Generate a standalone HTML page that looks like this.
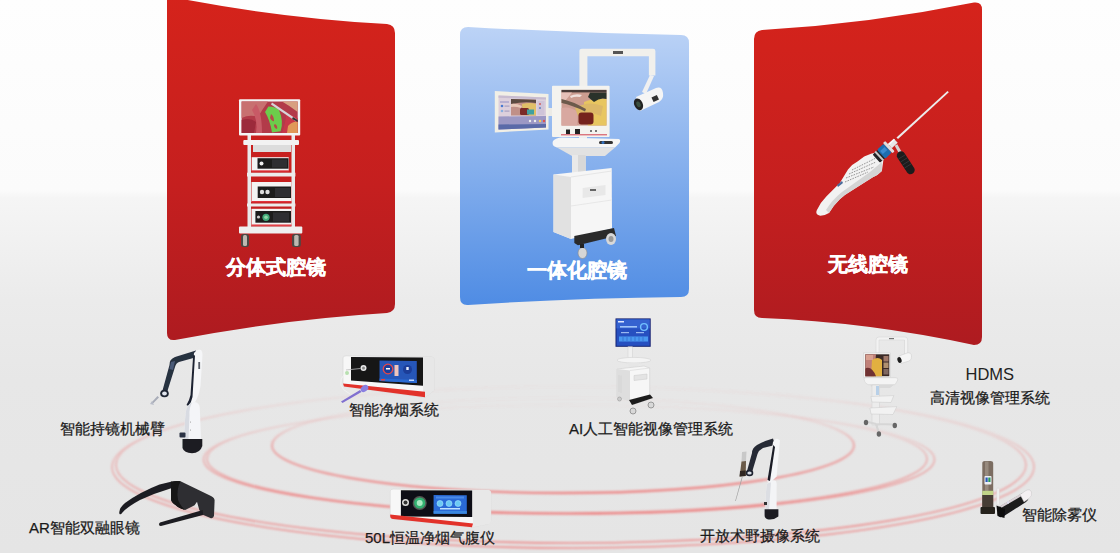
<!DOCTYPE html>
<html><head><meta charset="utf-8">
<style>
html,body{margin:0;padding:0;}
body{width:1120px;height:553px;overflow:hidden;position:relative;
 background:linear-gradient(180deg,#fefefe 0px,#fbfbfb 190px,#f5f5f5 198px,#ebebeb 300px,#e7e7e7 380px,#e5e5e5 553px);
 font-family:"Liberation Sans",sans-serif;}
svg{position:absolute;left:0;top:0;}
.lbl{position:absolute;white-space:nowrap;color:#1a1a1a;font-size:15px;line-height:16px;-webkit-text-stroke:0.25px #1a1a1a;}
.ttl{position:absolute;white-space:nowrap;color:#fff;font-size:20px;line-height:22px;font-weight:bold;-webkit-text-stroke:0.4px #fff;}
</style></head><body>
<svg width="1120" height="553" viewBox="0 0 1120 553">
<defs>
 <linearGradient id="gr" x1="0" y1="0" x2="0" y2="1">
  <stop offset="0" stop-color="#d5231b"/>
  <stop offset="0.55" stop-color="#c51f1f"/>
  <stop offset="1" stop-color="#ae1b20"/>
 </linearGradient>
 <linearGradient id="gb" x1="0" y1="0" x2="0" y2="1">
  <stop offset="0" stop-color="#bcd3f6"/>
  <stop offset="1" stop-color="#4f8ce4"/>
 </linearGradient>
 <filter id="soft" x="-5%" y="-5%" width="110%" height="110%"><feGaussianBlur stdDeviation="0.35"/></filter>
 <filter id="blur1" x="-10%" y="-50%" width="120%" height="200%"><feGaussianBlur stdDeviation="1.2"/></filter>
</defs>
<!-- rings -->
<defs>
 <linearGradient id="rg" x1="0" y1="0" x2="0" y2="1">
  <stop offset="0" stop-color="#ee7a7a" stop-opacity="0.02"/>
  <stop offset="0.3" stop-color="#ee7a7a" stop-opacity="0.18"/>
  <stop offset="0.5" stop-color="#ee7a7a" stop-opacity="0.5"/>
  <stop offset="1" stop-color="#ee7a7a" stop-opacity="0.85"/>
 </linearGradient>
</defs>
<g fill="none" stroke="url(#rg)" filter="url(#blur1)">
 <ellipse cx="563" cy="445.5" rx="291" ry="47.5" stroke-width="2.3"/>
 <ellipse cx="567" cy="459" rx="360" ry="54" stroke-width="1.6"/>
 <ellipse cx="569" cy="459.5" rx="365.5" ry="54.5" stroke-width="1.6"/>
 <ellipse cx="571" cy="465" rx="455" ry="78" stroke-width="1.6"/>
 <ellipse cx="573" cy="467" rx="461" ry="81" stroke-width="1.6"/>
</g>
<!-- panels -->
<path d="M167 -4 Q277 18 387 24 Q395 25 395 33 L395 304 Q395 312 387 313 Q281 319.5 175 340 Q167 341 167 333 Z" fill="url(#gr)"/>
<path d="M460 35 Q460 27 468 27 Q574 33 681 35 Q689 35 689 43 L689 289 Q689 297 681 297 Q574 298 468 305 Q460 305.5 460 297 Z" fill="url(#gb)"/>
<path d="M754 39 Q754 31 762 30 Q868 24 974 2.5 Q982 1.5 982 9.5 L982 337 Q982 345 974 345 Q868 322 762 318 Q754 318 754 310 Z" fill="url(#gr)"/>




<!-- robotic arm 1 -->
<g id="arm1" filter="url(#soft)">
 <path d="M196 350.5 L175 357 Q169 359.5 169.5 365 L162.5 390.5 L166.5 394 L175 367 Q176 363 179 362 L197 357Z" fill="#283040"/>
 <path d="M171 362 L175 361 L173 370 L169.5 369Z" fill="#4a5a78"/>
 <ellipse cx="164.5" cy="393.5" rx="4.3" ry="3.8" fill="#1f2533"/>
 <ellipse cx="164.5" cy="393.5" rx="2.4" ry="2" fill="#e2e6ee"/>
 <path d="M157.5 396 L151.5 402.5 L153 403.5 L159 397.5Z" fill="#a8acb8"/>
 <path d="M152 401 L150 404 L154 405Z" fill="#b8bcc8"/>
 <path d="M194 353 Q197 348.5 201 350 Q203 352 202.3 357.5 L200.5 386 Q199 396 195 402 L190.5 404 Q190 399 191 394Z" fill="#f5f6f8"/>
 <path d="M193.2 355 L195 355.5 L192.5 397 Q191.5 402 188.5 406 L186.5 405 Q189.5 400 190.5 395Z" fill="#1c2230"/>
 <rect x="198.3" y="362" width="1.8" height="7" fill="#555a66"/>
 <path d="M186 411 Q187.5 403 195 402 Q199.5 403 199.8 408 L201 439 H184 L185 420Z" fill="#f4f5f8"/>
 <path d="M186 411 Q187.5 404 192 402.5 Q189 408 189.5 415 L188.5 439 H184 L185 420Z" fill="#d8dbe2"/>
 <circle cx="190.5" cy="422" r="0.5" fill="#888"/>
 <circle cx="190.5" cy="430" r="0.5" fill="#888"/>
 <path d="M182.5 439 H202.3 V446 Q200 453.3 192 453.3 Q184 453 182.5 448Z" fill="#1c1e24"/>
 <rect x="179.5" y="432.5" width="6" height="5" rx="1" fill="#2a3244"/>
</g>
<!-- AR glasses -->
<g id="glasses" filter="url(#soft)">
 <path d="M172 481.5 L159.5 484.5 Q140 492 125 503 Q118 509 119.5 514 Q121 515 122 513 Q127 507 140 500 Q155 493 172 488Z" fill="#1f1f22"/>
 <path d="M171.1 481.8 Q176 480.5 180.5 481.2 L211 495.9 Q214.8 498 214.6 500.6 L214 515.8 Q213.5 518.5 211 518.2 L202.8 514.7 L199.3 510 L197 501.7 L194.6 505.3 L185.2 510 Q178 508 175.8 505.3 Q171 502 171.1 499.4Z" fill="#2e2e31"/>
 <path d="M171.1 481.8 Q176 480.5 180.5 481.2 Q176 490 178 500 Q181 507 185.2 510 Q178 508 175.8 505.3 Q171 502 171.1 499.4Z" fill="#141416"/>
 <path d="M202.8 510 L160 522.5 Q158 524 159.5 525.8 L161 526 L203 515Z" fill="#1e1e20"/>
</g>
<!-- smoke evacuator -->
<g id="smoke" filter="url(#soft)">
 <path d="M343 358 Q343 355.8 346 355.8 L432 357 Q434.4 357.5 434.4 360 V390 L425 397.5 L346 386.5 Q343 386 343 383Z" fill="#f7f7f7" stroke="#d4d4d4" stroke-width="0.6"/>
 <path d="M423 357.2 L432 357 Q434.4 357.5 434.4 360 V390 L425 397.5 L423 392Z" fill="#e7e7e7"/>
 <path d="M351 357 L423 357.5 V385.7 L351 380.5Z" fill="#131315"/>
 <path d="M379.5 360.6 L416.8 361 V383 L379.5 381Z" fill="#2656b8"/>
 <path d="M379.5 378.5 L416.8 380 V383 L379.5 381Z" fill="#2c6ad2"/>
 <circle cx="388" cy="369" r="4.8" fill="#1f3e9a" stroke="#e84848" stroke-width="1.3"/>
 <rect x="386" y="368" width="4" height="1.5" fill="#fff"/>
 <rect x="394.5" y="365" width="4" height="11" rx1.5="" fill="#f0c4bc"/>
 <circle cx="407.5" cy="369.5" r="4.5" fill="#1c3c98"/>
 <rect x="406.3" y="367" width="2.4" height="3" fill="#e8f0ff"/>
 <rect x="381" y="379" width="4" height="1.5" fill="#e04040"/>
 <rect x="409" y="379.5" width="5" height="1.5" fill="#c0d8ff"/>
 <circle cx="363.5" cy="368" r="3" fill="#e8e8e8"/>
 <circle cx="363.5" cy="368" r="1.5" fill="#888"/>
 <path d="M346 370 L360.5 368.5" stroke="#bbb" stroke-width="0.8"/>
 <path d="M343 383.6 L425 391.8 L425 397.2 L344 386.4Z" fill="#e2302c"/>
 <circle cx="347" cy="373" r="2" fill="#b8e0b0"/>
 <path d="M341 401.5 L360 390 L361.5 392 L342.5 403Z" fill="#8070d0"/>
 <ellipse cx="364.5" cy="388.5" rx="3" ry="4.2" transform="rotate(50 364.5 388.5)" fill="#8a7ee0"/>
 <path d="M345 373 Q334 386 350 394" stroke="#f4f4f4" stroke-width="0.8" fill="none"/>
</g>
<!-- insufflator -->
<g id="insuff" filter="url(#soft)">
 <path d="M390.2 491 Q390.2 489.1 393 489.1 L488 490 Q490.9 490.5 490.9 493 V520 Q490.9 523 488 524 L472 527.2 L393 519 Q390.2 518.6 390.2 516Z" fill="#f7f7f7" stroke="#d6d6d6" stroke-width="0.6"/>
 <path d="M473 490 L488 490 Q490.9 490.5 490.9 493 V520 Q490.9 523 488 524 L473 527Z" fill="#e8e8e8"/>
 <path d="M400.9 490.2 L472.2 490.6 V517 L400.9 516.5Z" fill="#111113"/>
 <path d="M433.6 495 L466.8 495.2 V513.8 L433.6 513.6Z" fill="#2a6ad6"/>
 <rect x="436" y="496.5" width="28" height="2" fill="#4a8ae8"/>
 <rect x="440" y="508" width="20" height="1.5" fill="#c0e0ff"/>
 <rect x="433.6" y="511" width="33.2" height="2.8" fill="#3a88e0"/>
 <circle cx="440" cy="503.5" r="3" fill="#6ccaf4" stroke="#a8e4ff" stroke-width="0.6"/>
 <circle cx="449" cy="503.5" r="3" fill="#6ccaf4" stroke="#a8e4ff" stroke-width="0.6"/>
 <circle cx="458" cy="503.5" r="3" fill="#6ccaf4" stroke="#a8e4ff" stroke-width="0.6"/>
 <circle cx="419.7" cy="503" r="7" fill="#555"/>
 <circle cx="419.7" cy="503" r="5.6" fill="#30b070"/>
 <circle cx="419.7" cy="503" r="3" fill="#a8e8c0"/>
 <circle cx="405.5" cy="502.5" r="3.5" fill="#ddd"/>
 <circle cx="405.5" cy="502.5" r="2" fill="#333"/>
 <path d="M390.2 516 Q390.2 518.6 393 519 L472 527.2 L473 523.5 L390.2 514.5Z" fill="#e2302c"/>
</g>
<!-- AI system -->
<g id="ai" filter="url(#soft)">
 <rect x="615.5" y="318.4" width="35.2" height="28.4" fill="#142070"/>
 <rect x="616.5" y="319.4" width="33.2" height="26.4" fill="#2850c0"/>
 <rect x="616.5" y="319.4" width="33.2" height="9" fill="#3462d0"/>
 <rect x="618" y="321" width="6" height="1.5" fill="#e0e8ff"/>
 <rect x="620" y="326" width="17" height="1.6" fill="#a0c4f8"/>
 <circle cx="644" cy="327" r="3.4" fill="none" stroke="#70c0ff" stroke-width="1.4"/>
 <rect x="621" y="332" width="8" height="1.2" fill="#9ab8f0"/>
 <rect x="636" y="332" width="8" height="1.2" fill="#9ab8f0"/>
 <rect x="619" y="336.5" width="29" height="5" fill="#4a98f0"/>
 <path d="M623 337v4M627 337v4M631 337v4M635 337v4M639 337v4M643 337v4" stroke="#2a60c8" stroke-width="0.6"/>
 <rect x="628" y="346.8" width="4.5" height="12" fill="#f0f0f0" stroke="#cfcfcf" stroke-width="0.5"/>
 <ellipse cx="634" cy="360.2" rx="17" ry="2.8" fill="#f4f4f4" stroke="#d2d2d2" stroke-width="0.6"/>
 <path d="M627 363 L640 363 L638 367 H629Z" fill="#e6e6e6"/>
 <path d="M617 369 L644 366 L649.7 368 V397 L631 401 L617 397Z" fill="#f6f6f6" stroke="#d0d0d0" stroke-width="0.6"/>
 <path d="M617 369 L630 370.5 V401 L617 397Z" fill="#dedede"/>
 <path d="M630 370.5 L649.7 368" stroke="#d6d6d6" stroke-width="0.6"/>
 <path d="M619 375 V392 M621 375.5 V393" stroke="#c8c8c8" stroke-width="0.5"/>
 <path d="M634 375.5 L647 374 V379 L634 380.5Z" fill="#e4e4e4" stroke="#c8c8c8" stroke-width="0.5"/>
 <path d="M629 400 L650 394.5 L653 398 L632 405Z" fill="#1e1e1e"/>
 <circle cx="633" cy="411" r="3" fill="#d8d8d8" stroke="#888" stroke-width="0.8"/>
 <circle cx="651" cy="405" r="3" fill="#d8d8d8" stroke="#888" stroke-width="0.8"/>
 <circle cx="619.5" cy="399" r="2" fill="#ccc" stroke="#999" stroke-width="0.6"/>
</g>
<!-- HDMS cart -->
<g id="hdms" filter="url(#soft)">
 <path d="M876 340 Q876 337 879 337 H905 Q907.7 337 907.7 340 V355 H904.5 V340 H879 V353 H876Z" fill="#f2f2f2" stroke="#d0d0d0" stroke-width="0.5"/>
 <rect x="889" y="338" width="5" height="1.2" fill="#777"/>
 <path d="M899 356 L907 353 Q911 352 911.5 356 Q912 360 909 361 L901 363.5Z" fill="#f6f6f6" stroke="#c8c8c8" stroke-width="0.5"/>
 <ellipse cx="899.5" cy="360" rx="2" ry="3" transform="rotate(-20 899.5 360)" fill="#1a1a1a"/>
 <rect x="863.4" y="352.9" width="27" height="24.8" fill="#f2f2f0" stroke="#cfcfcf" stroke-width="0.5"/>
 <rect x="865.3" y="354.3" width="24" height="21.9" fill="#3a2a28"/>
 <path d="M865.3 354.3 H876 L874 376.2 H865.3Z" fill="#c08078"/>
 <path d="M872 360 Q878 356 882 360 L882 376.2 H871Z" fill="#e2b040"/>
 <path d="M866 368 Q872 366 876 376.2 H865.3 V369Z" fill="#703030"/>
 <rect x="866" y="355" width="7" height="5" fill="#d8a090"/>
 <rect x="883.5" y="356" width="5" height="5.5" fill="#a07868"/>
 <rect x="883.5" y="362.5" width="5" height="5.5" fill="#b09070"/>
 <rect x="883.5" y="369" width="5" height="5.5" fill="#806860"/>
 <path d="M864 379 Q864 377.7 866 377.7 L896 377.7 Q898 378 897.8 380 L895 384.7 H868 Q864 383 864 379Z" fill="#f4f4f4" stroke="#cdcdcd" stroke-width="0.5"/>
 <path d="M870 384.7 H894 L890 388 H873Z" fill="#dadada"/>
 <rect x="872" y="385" width="7.5" height="40" fill="#ececec" stroke="#cdcdcd" stroke-width="0.5"/>
 <rect x="876" y="386" width="3" height="9" fill="#b8d0e8"/>
 <path d="M870.9 396.5 L893.8 395.6 L891 402.5 L872 402Z" fill="#f2f2f2" stroke="#c8c8c8" stroke-width="0.5"/>
 <path d="M869.9 408 L896.8 406.6 L893 414.5 L871 414Z" fill="#f2f2f2" stroke="#c8c8c8" stroke-width="0.5"/>
 <path d="M866 421.5 L876 424 L894.8 424.5 M876 424 L878.9 433" stroke="#d6d6d6" stroke-width="2.2" fill="none"/>
 <ellipse cx="866" cy="422.5" rx="2.2" ry="2.8" fill="#666"/>
 <ellipse cx="894.8" cy="425.5" rx="2.2" ry="2.8" fill="#666"/>
 <ellipse cx="878.9" cy="434" rx="2.2" ry="2.8" fill="#666"/>
</g>
<!-- open-field camera arm -->
<g id="arm2" filter="url(#soft)">
 <path d="M773 438.5 Q764 441 757 445 Q752 448 752 453 L747 471 L751.5 474 L757.5 454 Q759 450 763 448 L775 445Z" fill="#272b35"/>
 <ellipse cx="749.5" cy="473" rx="3.8" ry="3.2" fill="#1f2430"/>
 <ellipse cx="749.5" cy="473" rx="2.2" ry="1.6" fill="#d8dde6"/>
 <path d="M742 452 L746.5 451.5 L746 461 L741.5 461.5Z" fill="#c8c8c8"/>
 <path d="M741.5 461.5 L746 461 L745.7 476 L739.6 476.5Z" fill="#6a5a48"/>
 <path d="M740 471 L745.7 470.5 L745.7 476 L739.6 476.5Z" fill="#2e2620"/>
 <path d="M742 476.5 L742.8 476.5 L735.8 501 L735.2 501Z" fill="#a0a0a0"/>
 <path d="M773 442 Q776 436.5 780 440.3 L776.6 476.5 L771 482 L767.2 481.6Z" fill="#f5f6f8"/>
 <path d="M773.2 445 L767.5 480 L770 481 L775 447Z" fill="#1b1f28"/>
 <path d="M767 484 Q771 478.5 776 481 Q777 483 776.6 488 L776.6 509.5 H765.4 L766 492Z" fill="#f3f4f6"/>
 <path d="M767 484 Q769 482 771 482.5 L769 509.5 H765.4 L766 492Z" fill="#dcdee3"/>
 <rect x="764" y="502" width="3" height="3" fill="#333"/>
 <path d="M764.6 509.2 H778.4 V516.5 Q774 520 768.5 519.5 Q764.6 518.5 764.6 515.5Z" fill="#1c1e23"/>
</g>
<!-- defogger -->
<g id="defog" filter="url(#soft)">
 <path d="M982.3 463 Q982.3 460.9 985 460.9 H990.5 Q993.2 460.9 993.2 463 V509 H982.3Z" fill="#7b6d62"/>
 <rect x="985" y="461.5" width="3.5" height="47" fill="#978a7e"/>
 <rect x="984.5" y="476" width="7" height="8.5" rx="0.8" fill="#eceef4"/>
 <rect x="985.5" y="477.5" width="2.2" height="4.5" fill="#2a58b8"/>
 <rect x="988.3" y="477.5" width="2.2" height="4.5" fill="#2a9858"/>
 <rect x="982.3" y="490.8" width="10.9" height="4.2" fill="#c2d488"/>
 <rect x="982.3" y="495" width="10.9" height="13" fill="#463c35"/>
 <rect x="980.5" y="507" width="14.5" height="7" rx="1" fill="#25211f"/>
 <rect x="996.8" y="488" width="2.5" height="17" rx="1" fill="#f2f2f2" stroke="#cfcfcf" stroke-width="0.4"/>
 <path d="M999 507 L1021 494 Q1026 491 1028 495 Q1030 499 1026 502 L1004 516 Q999 519 997.5 514Z" fill="#1a1a1c"/>
 <path d="M1000 506 L1021 493.5 L1022.5 495.5 L1001 508Z" fill="#d8d0d4"/>
 <path d="M1020 494.5 L1026 490.5 Q1030 488.5 1031.5 492 Q1032.5 496 1029 498.5 L1024 502Z" fill="#f4f0f2" stroke="#bbb" stroke-width="0.4"/>
 <circle cx="1008" cy="502.5" r="1.2" fill="#dde"/>
 <path d="M996.5 505.5 L1005 509 L1004.5 518 L997.5 516Z" fill="#0e0e10"/>
</g>
<!-- wireless scope -->
<g id="scope" filter="url(#soft)">
 <path d="M947.5 91 L948.8 92.2 L898 139 L896.5 137.6Z" fill="#ececec"/>
 <path d="M896 145 L900.5 153" stroke="#d4d4d4" stroke-width="3"/>
 <path d="M901 155.5 L910.5 170" stroke="#1c1c1e" stroke-width="8.5" stroke-linecap="round"/>
 <path d="M898.5 159 L905 155 M900.5 162 L907 158 M902.5 165 L909 161 M904.5 168 L911 164" stroke="#3a3a3c" stroke-width="0.8"/>
 <path d="M864.2 156.5 Q871 153 877.8 151.9 Q884 155 883.2 161.4 L881.9 170.9 Q878 175 872.4 177.6 L850.7 191.2 Q844 195 839.8 199.3 Q833 206 829 212.9 Q824 216 819.5 215.6 Q815 214 816.8 210.2 Q820 203 826.3 196.6 L839.8 183.1 Q844 176 848 169.5 Q852 164 857.5 161.4Z" fill="#f2f2f2"/>
 <path d="M881.9 162 L881.9 170.9 Q878 175 872.4 177.6 L850.7 191.2 Q844 195 839.8 199.3 Q833 206 829 212.9 L826 210 Q832 200 842 192 L870 172Z" fill="#d4d4d4"/>
 <path d="M852 170 L876 158 M849 174 L876 162 M846 178 L874 167 M845 182 L868 172" stroke="#8a8a8a" stroke-width="0.9" stroke-dasharray="1.6 1.1"/>
 <path d="M837 185 L842 181 L843 183 L838 187Z" fill="#4a6a9a"/>
 <g transform="translate(884.4 151.2) rotate(-42.7)">
  <rect x="-11" y="-5.5" width="7" height="11" rx="1" fill="#232325"/>
  <rect x="-8" y="-6" width="2" height="12" fill="#c8c8c8"/>
  <rect x="-4.5" y="-6" width="9" height="12" rx="1.5" fill="#1d6db0"/>
  <rect x="-3" y="-3" width="6" height="4" fill="#3a8ad0"/>
  <rect x="4.5" y="-7" width="3" height="14" rx="1" fill="#dedede"/>
  <rect x="7.5" y="-2.8" width="8" height="5.6" fill="#e6e6e6"/>
  <rect x="7.5" y="-2.8" width="8" height="1.5" fill="#fafafa"/>
 </g>
</g>
<!-- integrated product -->
<g id="integ" filter="url(#soft)">
 <path d="M579.4 51 Q579.4 48.7 582 48.7 H653 Q655.4 48.7 655.4 51 V75.5 H648.9 V56.2 H587.4 V87 H579.4Z" fill="#f1f0ec"/>
 <rect x="613" y="51" width="10" height="3" fill="#555"/>
 <path d="M650 75 L654 76 L646 94 L642 92Z" fill="#f0f0f0"/>
 <path d="M636 97 L656 88 Q662 86 663 93 Q664 99 659 102 L640 111 Z" fill="#f5f5f5"/>
 <ellipse cx="638.5" cy="104.3" rx="4.2" ry="6.2" transform="rotate(-25 638.5 104.3)" fill="#222"/>
 <ellipse cx="638.5" cy="104.3" rx="2" ry="3" transform="rotate(-25 638.5 104.3)" fill="#3a5040"/>
 <rect x="652" y="96" width="6" height="5" fill="#333" transform="rotate(-25 655 98)"/>
 <rect x="548" y="108" width="6" height="8" fill="#ecebe6"/>
 <path d="M494.8 91.1 L548.5 93.9 V129.4 L494.8 132.5Z" fill="#f1efe6"/>
 <path d="M498.5 95.5 L546 97.5 V127.5 L498.5 129.5Z" fill="#ddd0dc"/>
 <path d="M498.5 95.5 L546 97.5 V99.5 L498.5 97.8Z" fill="#c8bcd0"/>
 <rect x="500" y="101" width="9" height="2" fill="#b8b0d0"/>
 <circle cx="502" cy="106" r="1.3" fill="#4a7ad0"/>
 <circle cx="502" cy="111" r="1.3" fill="#8ab0e0"/>
 <rect x="504.5" y="105.5" width="5" height="1.2" fill="#a8a0c0"/>
 <rect x="504.5" y="110.5" width="5" height="1.2" fill="#a8a0c0"/>
 <path d="M511 99 L536 99.8 V115.5 L511 115.5Z" fill="#c09088"/>
 <path d="M511 99 L536 99.8 V103 Q525 101 511 104Z" fill="#5a4a40"/>
 <path d="M522 104 Q530 102 536 104 V115.5 H526 Q522 110 522 104Z" fill="#e0c068"/>
 <rect x="520" y="108" width="9" height="7" rx="1.5" fill="#7a2a28"/>
 <path d="M511 104 Q516 103 522 106 L521 108 Q515 106 511 107Z" fill="#e8c8b8"/>
 <rect x="527" y="109.5" width="7" height="5" fill="#40a0a0"/>
 <rect x="537.5" y="101" width="7" height="14" fill="#cfc4d8"/>
 <circle cx="540" cy="104" r="1" fill="#d06060"/>
 <circle cx="540" cy="108" r="1" fill="#6080c0"/>
 <path d="M498.5 116.5 L546 116 V127.5 L498.5 129.5Z" fill="#9c98c4"/>
 <path d="M498.5 124.5 L546 124 V127.5 L498.5 129.5Z" fill="#5a6aa8"/>
 <circle cx="530" cy="121" r="1.2" fill="#eee"/>
 <circle cx="535" cy="121" r="1.2" fill="#eee"/>
 <circle cx="540" cy="121" r="1.2" fill="#f0d060"/>
 <circle cx="544" cy="121" r="1.2" fill="#e05050"/>
 <rect x="552" y="85.7" width="57.6" height="51.3" rx="1" fill="#f4f3ef"/>
 <rect x="561.5" y="89.9" width="45" height="35.7" fill="#cc9c90"/>
 <rect x="561.5" y="89.9" width="45" height="2.5" fill="#4a3a38"/>
 <path d="M561.5 92.4 H572 Q566 100 562 104 H561.5Z" fill="#e6c0b8"/>
 <path d="M561.5 108 Q570 106 578 112 L577 125.6 H561.5Z" fill="#d8a8a0"/>
 <path d="M584 102 Q596 97 606.5 99 V125.6 H588 Q584 112 584 102Z" fill="#e8c660"/>
 <path d="M575 108 Q588 100 603 106 L601 116 Q588 110 578 116Z" fill="#dcb868"/>
 <rect x="578.5" y="112.5" width="15" height="12" rx="3" fill="#74241f"/>
 <path d="M590 92.4 H606.5 V99 Q600 97 594 102 L588 97Z" fill="#2c332a"/>
 <path d="M561.5 99 Q572 101 586 109 L585 111.5 Q572 105 561.5 103Z" fill="#6c5a4c"/>
 <path d="M570 96 Q576 93 582 95 L580 97 Q575 96 571 98Z" fill="#f0e0dc"/>
 <rect x="566" y="129.5" width="4" height="4.5" fill="#222"/>
 <rect x="575" y="129" width="5" height="5" fill="#222"/>
 <rect x="590" y="130" width="2" height="2" fill="#777"/>
 <rect x="595" y="130" width="2" height="2" fill="#777"/>
 <rect x="561" y="134.3" width="46" height="1" fill="#d04050"/>
 <rect x="579" y="137" width="8" height="4" fill="#eee"/>
 <path d="M553 141 Q556 137.5 562 137.5 L619 139 Q621 140 619.5 143 L615 147.5 H557 Q551 146 553 141Z" fill="#f5f5f5"/>
 <path d="M557 147.5 H615 L605 156 H572Z" fill="#e2e2e2"/>
 <rect x="599" y="141" width="14" height="3" rx="1.5" fill="#333"/>
 <circle cx="603" cy="142.5" r="1.5" fill="#3070c0"/>
 <rect x="572" y="155" width="13.7" height="19" fill="#e9e9e9"/>
 <rect x="578" y="155" width="7.7" height="19" fill="#d8d8d8"/>
 <rect x="556" y="218" width="5" height="12" rx="2" fill="#777"/>
 <path d="M553.5 174.5 L611.7 168 L612 228.5 L571 239 L553.5 232Z" fill="#f6f6f6"/>
 <path d="M553.5 174.5 L571 177 L571 239 L553.5 232Z" fill="#e1e1e1"/>
 <path d="M571 177 L611.7 171" stroke="#e6e6e6" stroke-width="1" fill="none"/>
 <path d="M571 206 L611.7 200" stroke="#e3e3e3" stroke-width="0.8" fill="none"/>
 <path d="M582.6 188 L605.5 185 V195 L582.6 198Z" fill="#e8e8e8"/>
 <rect x="590" y="189" width="6" height="2" fill="#666"/>
 <path d="M574.3 236 L614 228 L616 236 L578 245.2 L574.3 243Z" fill="#2a2a2a"/>
 <ellipse cx="611" cy="239" rx="5" ry="6" fill="#d8d8d8"/>
 <ellipse cx="611" cy="239" rx="2.5" ry="3" fill="#999"/>
 <ellipse cx="582.5" cy="253" rx="4.5" ry="5.5" fill="#d6d6d6" stroke="#888" stroke-width="0.6"/><rect x="580" y="244" width="4" height="4" fill="#222"/>
</g>
<!-- tower product -->
<g id="tower" filter="url(#soft)">
 <rect x="247.5" y="135" width="3.5" height="95" fill="#e9e9ea"/>
 <rect x="291.5" y="135" width="3.5" height="95" fill="#e9e9ea"/>
 <rect x="239" y="99.3" width="61.2" height="36.2" rx="1" fill="#f4f4f4"/>
 <rect x="241.6" y="101.5" width="56.1" height="31.5" fill="#b23a4a"/>
 <path d="M241.6 101.5 H268 Q262 110 258 117 Q250 114 241.6 118Z" fill="#c87070"/>
 <path d="M241.6 120 Q250 117 256 122 L254 133 H241.6Z" fill="#9c2a3a"/>
 <path d="M256 104 Q262 112 262 133 H256 Q258 120 252 110Z" fill="#c85a66"/>
 <path d="M268.4 106.6 Q276 107 279 110 Q284 122 280.6 131.2 L272 132.6 Q270 120 265 112Z" fill="#6ccc4c"/>
 <path d="M271 114 Q274 116 274 121 Q272 122 270 118Z M275 124 Q278 126 277 129 Q274 128 274 125Z" fill="#b84848"/>
 <path d="M282 101.5 H297.7 V112 Q290 106 282 101.5Z" fill="#d8a080"/>
 <path d="M286 113 Q294 116 297.7 118 V133 H282 Q286 122 286 113Z" fill="#c83848"/>
 <path d="M288 126 Q293 121 297.7 122 V133 H287Z" fill="#e09858"/>
 <path d="M272 102.5 L297 119.5 L296 121.5 L271 104.5Z" fill="#d6d6d8"/>
 <path d="M293 117 L297.7 120 V122 L292 119Z" fill="#333"/>
 <rect x="243.3" y="140" width="55.7" height="5" rx="1" fill="#f2f2f2"/>
 <rect x="253" y="145" width="38" height="7" fill="#dcdcdc"/>
 <rect x="251.7" y="157.2" width="37" height="13.5" fill="#f3f3f3"/>
 <rect x="257.5" y="158.2" width="31" height="10.5" fill="#1c1c1e"/>
 <circle cx="261.5" cy="163.5" r="2" fill="#eee"/>
 <rect x="251.7" y="170.5" width="37" height="1.2" fill="#e0303a"/>
 <rect x="247" y="172.7" width="48.4" height="3.8" fill="#ececec"/>
 <rect x="251.5" y="182" width="40" height="20" fill="#f3f3f3"/>
 <rect x="257.7" y="186.5" width="33.3" height="11.5" fill="#1c1c1e"/>
 <circle cx="262" cy="192" r="2.2" fill="#ddd"/>
 <circle cx="267.5" cy="192" r="2.2" fill="#ddd"/>
 <rect x="251.5" y="201" width="40" height="1.4" fill="#e0303a"/>
 <rect x="247" y="203.5" width="48.4" height="3" fill="#ececec"/>
 <rect x="251.5" y="208.8" width="40" height="17" fill="#f3f3f3"/>
 <rect x="255.4" y="211" width="35.6" height="11.7" fill="#1c1c1e"/>
 <circle cx="266" cy="217.3" r="3.6" fill="#40a878"/>
 <circle cx="266" cy="217.3" r="1.8" fill="#8fd8a8"/>
 <circle cx="258.5" cy="217" r="1.6" fill="#ccc"/>
 <rect x="251.5" y="224.5" width="40" height="1.4" fill="#e0303a"/>
 <rect x="239" y="226.5" width="63.3" height="7" rx="1" fill="#efefef"/>
 <rect x="241" y="234" width="8" height="13" rx="2.5" fill="#4a4844"/>
 <rect x="243" y="235" width="4" height="11" rx="1.5" fill="#bdb8b0"/>
 <rect x="292" y="234" width="8.8" height="13" rx="2.5" fill="#4a4844"/>
 <rect x="294.2" y="235" width="4.4" height="11" rx="1.5" fill="#bdb8b0"/>
 <rect x="272" y="159.5" width="15" height="8" fill="#2e2e30"/>
 <rect x="275" y="188" width="15" height="9" fill="#2e2e30"/>
 <rect x="273" y="212.5" width="16" height="9" fill="#2e2e30"/>
</g>
</svg>
<div class="ttl" style="left:226px;top:256px;">分体式腔镜</div>
<div class="ttl" style="left:527px;top:259px;">一体化腔镜</div>
<div class="ttl" style="left:828px;top:253px;">无线腔镜</div>

<div class="lbl" style="left:60px;top:421px;">智能持镜机械臂</div>
<div class="lbl" style="left:29px;top:520px;">AR智能双融眼镜</div>
<div class="lbl" style="left:349px;top:402px;">智能净烟系统</div>
<div class="lbl" style="left:365px;top:530px;">50L恒温净烟气腹仪</div>
<div class="lbl" style="left:569px;top:421px;">AI人工智能视像管理系统</div>
<div class="lbl" style="left:700px;top:528px;">开放术野摄像系统</div>
<div class="lbl" style="left:1022px;top:507px;">智能除雾仪</div>
<div class="lbl" style="left:965.5px;top:366px;font-size:16.5px;-webkit-text-stroke:0;color:#222;">HDMS</div>
<div class="lbl" style="left:930px;top:390px;">高清视像管理系统</div>
</body></html>
